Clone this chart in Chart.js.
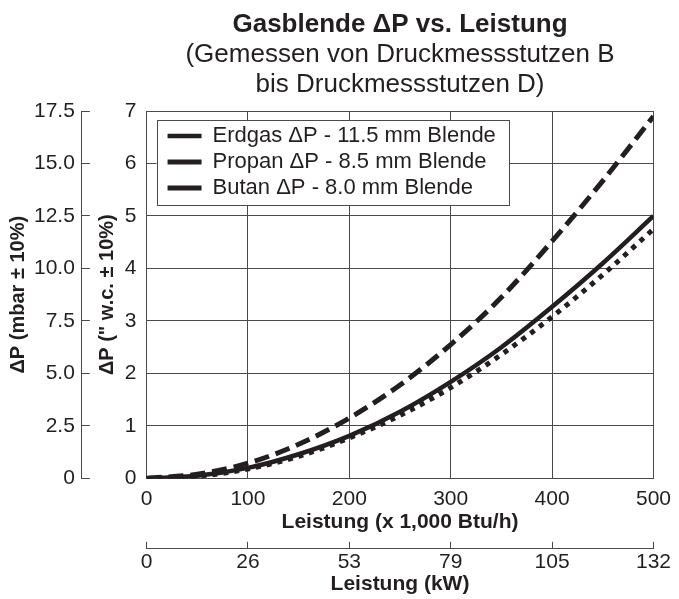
<!DOCTYPE html>
<html>
<head>
<meta charset="utf-8">
<title>Gasblende ΔP vs. Leistung</title>
<script src="https://cdn.jsdelivr.net/npm/chart.js@4.4.0/dist/chart.umd.min.js"></script>
<style>
  html, body { margin: 0; padding: 0; background: #fff; }
</style>
</head>
<body>
<canvas id="gasChart" width="679" height="599"></canvas>
<script>
// Leistung in 1,000 Btu/h
var loads = [0, 50, 100, 150, 200, 250, 300, 350, 400, 450, 500];
// Differenzdruck in " w.c.
var erdgas = [0, 0.05, 0.2, 0.46, 0.81, 1.27, 1.84, 2.5, 3.27, 4.1, 5.0];
var propan = [0, 0.08, 0.29, 0.65, 1.15, 1.78, 2.55, 3.45, 4.52, 5.67, 6.9];
var butan = [0, 0.04, 0.18, 0.42, 0.77, 1.2, 1.73, 2.36, 3.08, 3.88, 4.75];

var mbarLabels = ['0', '2.5', '5.0', '7.5', '10.0', '12.5', '15.0', '17.5'];
var kwLabels = ['0', '26', '53', '79', '105', '132'];

var ink = '#231f20';
var gridInk = '#4a4a4a';
var legendFont = 22;
var legendPad = 4;

Chart.defaults.font.family = '"Liberation Sans", Arial, sans-serif';
Chart.defaults.color = ink;

function pairs(ys) {
    return loads.map(function (x, i) { return { x: x, y: ys[i] }; });
}

// legend sits inside the plot with a white framed box
var legendFrame = {
    id: 'legendFrame',
    afterLayout: function (chart) {
        var area = chart.chartArea;
        var lg = chart.legend;
        lg.left = area.left + 17;
        lg.top = area.top + 10;
        lg.right = area.right;
        lg.bottom = area.bottom;
    },
    afterDraw: function (chart) {
        var lg = chart.legend;
        var ctx = chart.ctx;
        var n = lg.legendItems.length;
        var x = lg.left - 7;
        var y = lg.top - 1;
        var w = lg.width + 10;
        var h = legendPad + n * (legendFont + legendPad) + 3;
        ctx.save();
        ctx.fillStyle = '#fff';
        ctx.fillRect(x, y, w, h);
        ctx.strokeStyle = gridInk;
        ctx.lineWidth = 1;
        ctx.strokeRect(Math.round(x) + 0.5, Math.round(y) + 0.5, Math.round(w), Math.round(h));
        ctx.restore();
        lg.draw();
    }
};

var ctx = document.getElementById('gasChart').getContext('2d');
var myChart = new Chart(ctx, {
    type: 'line',
    data: {
        datasets: [{
            label: 'Erdgas \u0394P - 11.5 mm Blende',
            data: pairs(erdgas),
            borderColor: ink,
            borderWidth: 4.5,
            borderDash: []
        }, {
            label: 'Propan \u0394P - 8.5 mm Blende',
            data: pairs(propan),
            borderColor: ink,
            borderWidth: 5,
            borderDash: [15, 7]
        }, {
            label: 'Butan \u0394P - 8.0 mm Blende',
            data: pairs(butan),
            borderColor: ink,
            borderWidth: 5,
            borderDash: [5, 6]
        }]
    },
    options: {
        responsive: false,
        animation: false,
        elements: {
            point: { radius: 0 },
            line: { fill: false, cubicInterpolationMode: 'monotone', borderCapStyle: 'butt' }
        },
        layout: { padding: { left: 0, right: 10, top: 0, bottom: 0 } },
        plugins: {
            title: {
                display: true,
                fullSize: false,
                text: 'Gasblende \u0394P vs. Leistung',
                font: { size: 26, weight: 'bold', lineHeight: 1.2 },
                color: ink,
                padding: { top: 9, bottom: 0 }
            },
            subtitle: {
                display: true,
                fullSize: false,
                text: ['(Gemessen von Druckmessstutzen B', 'bis Druckmessstutzen D)'],
                font: { size: 26, lineHeight: 1.15 },
                color: ink,
                padding: { top: 0, bottom: 11 }
            },
            legend: {
                position: 'chartArea',
                align: 'start',
                labels: {
                    usePointStyle: true,
                    pointStyle: 'line',
                    pointStyleWidth: 34,
                    font: { size: legendFont },
                    color: ink,
                    padding: legendPad
                }
            },
            tooltip: { enabled: false }
        },
        scales: {
            x: {
                type: 'linear',
                position: 'bottom',
                min: 0,
                max: 500,
                ticks: { stepSize: 100, font: { size: 21 }, color: ink, padding: 8 },
                grid: { color: gridInk, drawTicks: false },
                border: { color: gridInk },
                title: {
                    display: true,
                    text: 'Leistung (x 1,000 Btu/h)',
                    font: { size: 21, weight: 'bold' },
                    color: ink,
                    padding: { top: -10, bottom: 14 }
                }
            },
            x2: {
                type: 'linear',
                position: 'bottom',
                weight: 1,
                min: 0,
                max: 500,
                ticks: {
                    stepSize: 100,
                    font: { size: 21 },
                    color: ink,
                    padding: 8,
                    callback: function (value, index) { return kwLabels[index]; }
                },
                grid: { drawOnChartArea: false, tickLength: -7, color: gridInk },
                border: { color: gridInk },
                title: {
                    display: true,
                    text: 'Leistung (kW)',
                    font: { size: 21, weight: 'bold', lineHeight: 1 },
                    color: ink,
                    padding: { top: -9, bottom: 4 }
                }
            },
            y: {
                type: 'linear',
                position: 'left',
                min: 0,
                max: 7,
                ticks: { stepSize: 1, font: { size: 21 }, color: ink, padding: 10 },
                grid: { color: gridInk, drawTicks: false },
                border: { color: gridInk },
                title: {
                    display: true,
                    text: '\u0394P (" w.c. \u00b1 10%)',
                    font: { size: 20, weight: 'bold', lineHeight: 1 },
                    color: ink,
                    padding: { top: 16, bottom: -3 }
                }
            },
            y2: {
                type: 'linear',
                position: 'left',
                weight: 1,
                min: 0,
                max: 17.5,
                ticks: {
                    stepSize: 2.5,
                    font: { size: 21 },
                    color: ink,
                    padding: 15,
                    callback: function (value, index) { return mbarLabels[index]; }
                },
                grid: { drawOnChartArea: false, tickLength: -8, color: gridInk },
                border: { color: gridInk },
                title: {
                    display: true,
                    text: '\u0394P (mbar \u00b1 10%)',
                    font: { size: 20, weight: 'bold', lineHeight: 1 },
                    color: ink,
                    padding: { top: 8, bottom: -9 }
                }
            }
        }
    },
    plugins: [legendFrame]
});
</script>
</body>
</html>
